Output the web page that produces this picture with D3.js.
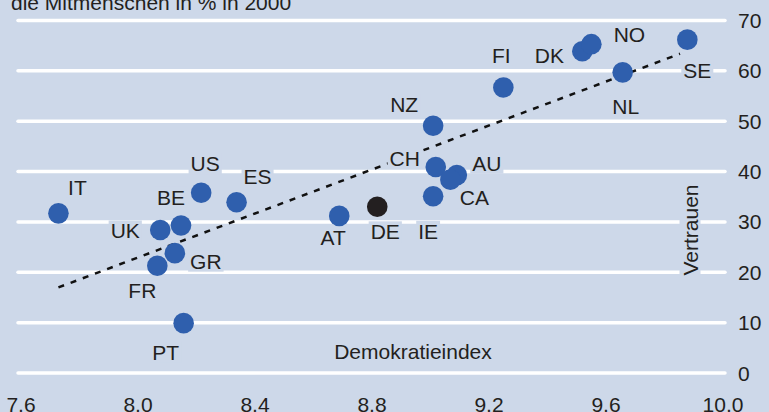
<!DOCTYPE html>
<html>
<head>
<meta charset="utf-8">
<script src="https://cdn.jsdelivr.net/npm/d3@7"></script>
<style>
  body { margin: 0; background: #cdd8e9; }
  svg text { font-family: "Liberation Sans", Arial, sans-serif; fill: #231f20; }
</style>
</head>
<body>
<div id="chart"></div>
<script>
const countries = ['IT','US','ES','BE','UK','GR','FR','PT','NZ','CH','AU','CA','IE','DE','AT','FI','DK','NO','NL','SE'];
const demokratie = [7.728,8.216,8.337,8.147,8.076,8.126,8.066,8.156,9.009,9.018,9.090,9.068,9.009,8.818,8.688,9.249,9.519,9.550,9.657,9.878];
const vertrauen = [31.7,35.8,33.9,29.3,28.4,23.8,21.3,9.9,49.1,40.9,39.3,38.4,35.1,33.0,31.2,56.7,63.9,65.3,59.7,66.2];
const trendX = [7.728, 9.853];
const trendY = [17.0, 63.4];
const xTicks = [7.6, 8.0, 8.4, 8.8, 9.2, 9.6, 10.0];
const yTicks = [0, 10, 20, 30, 40, 50, 60, 70];

// label placement relative to the dot (layout only)
const labelOffset = {
  IT: [19,-26], US: [4,-29], ES: [21,-26], BE: [-10,-28], UK: [-35,1],
  GR: [31,8], FR: [-15,25], PT: [-18,29], NZ: [-29,-21], CH: [-31,-9],
  AU: [30,-12], CA: [24,18], IE: [-5,35], DE: [8,25], AT: [-6,22],
  FI: [-2,-32], DK: [-33,4], NO: [38,-10], NL: [3,34], SE: [10,31]
};

const width = 769, height = 412;
const bg = '#cdd8e9';
const blue = '#2f5fad';

const data = countries.map((c, i) => ({c: c, x: demokratie[i], y: vertrauen[i]}));

const xScale = d3.scaleLinear().domain([7.6, 10.0]).range([21, 723]);
const yScale = d3.scaleLinear().domain([0, 70]).range([373, 20.5]);

const svg = d3.select('#chart').append('svg')
  .attr('width', width)
  .attr('height', height);

svg.append('rect').attr('width', width).attr('height', height).attr('fill', bg);

// gridlines
svg.selectAll('line.grid').data(yTicks)
  .enter().append('line')
  .attr('class', 'grid')
  .attr('x1', 18).attr('x2', 725)
  .attr('y1', d => yScale(d)).attr('y2', d => yScale(d))
  .attr('stroke', '#fff')
  .attr('stroke-width', 3.5)
  .attr('stroke-linecap', 'round');

// y tick labels (right side)
svg.selectAll('text.ytick').data(yTicks)
  .enter().append('text')
  .attr('class', 'ytick')
  .attr('x', 738)
  .attr('y', d => yScale(d))
  .attr('dominant-baseline', 'central')
  .attr('font-size', 21)
  .text(d => d);

// x tick labels
const fmt = d => d.toFixed(1).replace('.', ',');
svg.selectAll('text.xtick').data(xTicks)
  .enter().append('text')
  .attr('class', 'xtick')
  .attr('x', d => xScale(d))
  .attr('y', 412)
  .attr('text-anchor', 'middle')
  .attr('font-size', 21)
  .text(fmt);

// trend line
svg.append('line')
  .attr('x1', xScale(trendX[0])).attr('y1', yScale(trendY[0]))
  .attr('x2', xScale(trendX[1])).attr('y2', yScale(trendY[1]))
  .attr('stroke', '#111')
  .attr('stroke-width', 2.5)
  .attr('stroke-dasharray', '6,7');

// helper: text with a background box that hides gridlines
function boxedLabel(g, x, y, txt, rotate) {
  const grp = g.append('g').attr('transform', `translate(${x},${y})` + (rotate ? ` rotate(${rotate})` : ''));
  const rect = grp.append('rect').attr('fill', bg);
  const t = grp.append('text')
    .attr('text-anchor', 'middle')
    .attr('dominant-baseline', 'central')
    .attr('font-size', 21)
    .text(txt);
  const bb = t.node().getBBox();
  rect.attr('x', bb.x - 2).attr('y', bb.y + 1).attr('width', bb.width + 4).attr('height', bb.height - 2);
}

const labels = svg.append('g');
data.forEach(d => {
  const o = labelOffset[d.c];
  boxedLabel(labels, xScale(d.x) + o[0], yScale(d.y) + o[1], d.c);
});

boxedLabel(svg, 690, 230, 'Vertrauen', -90);

// dots
svg.selectAll('circle').data(data)
  .enter().append('circle')
  .attr('cx', d => xScale(d.x))
  .attr('cy', d => yScale(d.y))
  .attr('r', 10.3)
  .attr('fill', d => d.c === 'DE' ? '#231f20' : blue);

// axis title and header
svg.append('text')
  .attr('x', 413).attr('y', 359)
  .attr('text-anchor', 'middle')
  .attr('font-size', 21)
  .text('Demokratieindex');

svg.append('text')
  .attr('x', 11).attr('y', 10)
  .attr('font-size', 21)
  .text('die Mitmenschen in % in 2000');
</script>
</body>
</html>
